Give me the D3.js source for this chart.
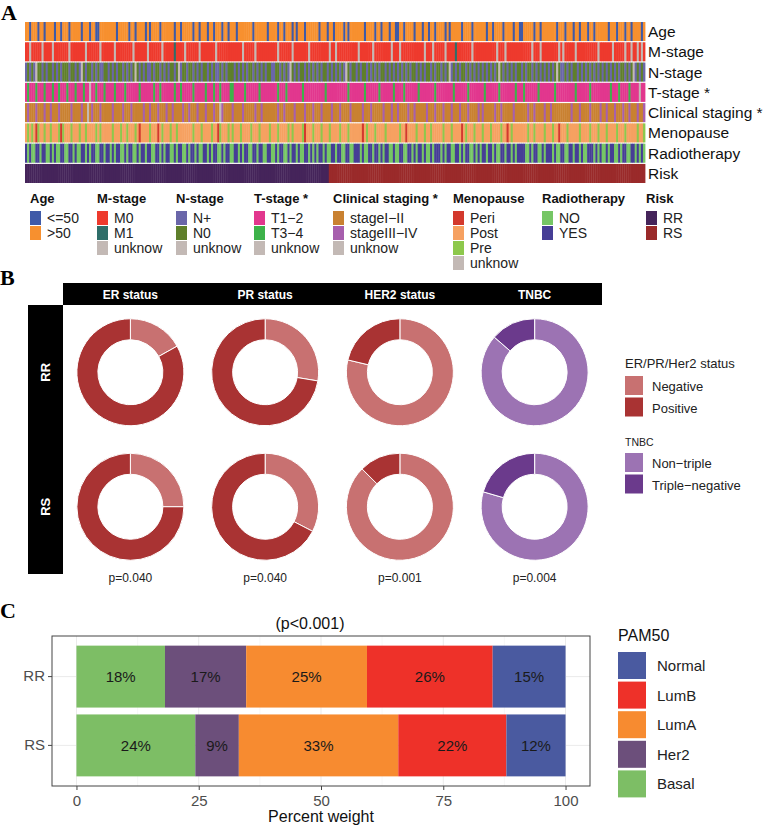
<!DOCTYPE html>
<html>
<head>
<meta charset="utf-8">
<script src="https://cdn.jsdelivr.net/npm/d3@7"></script>
<style>
  body { margin: 0; background: #fff; }
  text { font-family: "Liberation Sans", Arial, sans-serif; }
  .letter { font-family: "Liberation Serif", "Times New Roman", serif; font-weight: bold; font-size: 22px; }
</style>
</head>
<body>
<div id="chart"></div>
<script>
// ---------- panel A data: one code per patient, sorted by risk ----------
var ageCodes = [
  "bbabbbabbabbbbabbabb", "babbbbbabbbabbaabbbb", "bbbbabbbbbabbabbbbab", "abbbbabbbbbbabbabbbb",
  "babbabbbabbabbbabbab", "bbabbbbbbbabbbbbbabb", "bbabbabbbababbbabbbb", "bbabbbabbabbbbababbb",
  "bbbbabbbbabbabbbabba", "abbabbbbabbbabbabbab", "bbbababbbbbabbbbabbb", "bbbabbabbbbabbbbabba",
  "abbbbbabbabbbbbbbabb", "babbbabbabbbabbabbbb", "bbabbbabbbabbabbbbab"].join("");
var mCodes = [
  "00u00000u0000u000000", "0u0000000u000000u000", "000u00000000u000000u", "000000u0000010000u00",
  "0000u0000000u0000000", "00000u00000u00000000", "00u000000u0000000u00", "0000000u00u000000000",
  "0u000000u00000000u00", "0u00000000000u000u00", "000u000010000000u000", "00000000u000u0000000",
  "00000u000u00000000u0", "u00000u0000000000u00", "0000u00000u00u00u0u0"].join("");
var nCodes = [
  "+0+0+u00+0+00+0+0+00", "0+00+0+u0+00+0+0++00", "+0+0+00+0+0+0u0+0+0+", "+0+00+0+0+00+0u+00+0",
  "0+0+0+00+0+0++0+0+00", "0+0+0+0+00+0+0+0+00+", "+00+0+0+u0+0+00+0+0+", "0+0+00+0+0+0+0+u0+00",
  "+0+00+0+0+0+00+0+0+0", "+0+0+0+00+0+0+00+0+0", "0+0+0u+0+0+00+0+0+0+", "0+0+0+0+0u0+0+0+0+00",
  "+0+00+0+0+0+0+0+0u0+", "+0+0+00+0+0+0+0+0+0+", "0+0+0+0+00+0+0u+0+0+"].join("");
var tCodes = [
  "13111311131113113111", "31113111311u11311131", "11131111311111131111", "11311311111131131111",
  "13111113111311311113", "31111131111113111111", "11311131111111311111", "11111311111111113111",
  "11113111111311111131", "11131111113111111131", "11111113111111311111", "11311111131111111311",
  "13111111311111113111", "11111131111113111111", "11131113111131111u11"].join("");
var clinCodes = [
  "efeeefeeefeefeeefeee", "eefeeeefeeuefeeefeee", "eefeeeefeeefeeeeefee", "feeefeeefeefeeeefeef",
  "eeefeeefeeefeeufeeee", "feeeefeeeeefeefeeeee", "eefeefeeeefeeeefeeef", "eeefeeeefeeefeeeefee",
  "eeefeeefeeeeefeeefee", "feeeefeefeeeeefeeefe", "eefeeefeeefeeefeeeef", "efeeeeefeefeeeeefeee",
  "eeefeefeeeefeefeeeee", "eeeefeeefeeeefeeeefe", "efeeefeeefeefeeefeef"].join("");
var menoCodes = [
  "opoporpoopoopoooprpo", "oopooopoopoooopopooo", "oopooopoopoooporoooo", "poooropooopoopoooooo",
  "opooopoooopoorpooopo", "pooopoooopooopoooopo", "oopoooopopooooprooop", "ooopooopoooopooopooo",
  "oooropooopoooopooooo", "opooroooopooopoopooo", "oopooopooooropooopoo", "opooopoooopooropoooo",
  "ooopoopoooopooopooro", "oopooooopoooopooopoo", "opoooopooopooooopoop"].join("");
var radioCodes = [
  "ynynnyynyynnynynnyyn", "nyynynnyynynyynnyyny", "ynynyynnynyynnynyyny", "ynnyynynyynnynyynnyn",
  "yynynnyynynyynnynyyn", "nyynynyynnyynyynnyyn", "nynyynnynyynynnyynyn", "ynyynynnyynyynnyynny",
  "yynynnyynyynynyynnyn", "nyynnyynynyynynnynyy", "ynynyynnyynynyynnyny", "nyynyynynnyynyynynyy",
  "yynnynyynnynyyynynny", "ynnyynyynynnyyynynyn", "nynyynnynyynnyynynyn"].join("");
var riskCodes = [
  "RRRRRRRRRRRRRRRRRRRR", "RRRRRRRRRRRRRRRRRRRR", "RRRRRRRRRRRRRRRRRRRR", "RRRRRRRRRRRRRRRRRRRR",
  "RRRRRRRRRRRRRRRRRRRR", "RRRRRRRRRRRRRRRRRRRR", "RRRRRRRRRRRRRRRRRRRR", "RRRRRRRSSSSSSSSSSSSS",
  "SSSSSSSSSSSSSSSSSSSS", "SSSSSSSSSSSSSSSSSSSS", "SSSSSSSSSSSSSSSSSSSS", "SSSSSSSSSSSSSSSSSSSS",
  "SSSSSSSSSSSSSSSSSSSS", "SSSSSSSSSSSSSSSSSSSS", "SSSSSSSSSSSSSSSSSSSS"].join("");

var rowNames = ["Age", "M-stage", "N-stage", "T-stage *", "Clinical staging *", "Menopause", "Radiotherapy", "Risk"];
var rowCodes = [ageCodes, mCodes, nCodes, tCodes, clinCodes, menoCodes, radioCodes, riskCodes];

var legendTitles = ["Age", "M-stage", "N-stage", "T-stage *", "Clinical staging *", "Menopause", "Radiotherapy", "Risk"];
var legendKeys = [["a", "b"], ["0", "1", "u"], ["+", "0", "u"], ["1", "3", "u"], ["e", "f", "u"], ["r", "o", "p", "u"], ["n", "y"], ["R", "S"]];
var legendLabels = [
  ["<=50", ">50"], ["M0", "M1", "unknow"], ["N+", "N0", "unknow"], ["T1\u22122", "T3\u22124", "unknow"],
  ["stageI\u2212II", "stageIII\u2212IV", "unknow"], ["Peri", "Post", "Pre", "unknow"], ["NO", "YES"], ["RR", "RS"]];

// ---------- panel B data ----------
var statusNames = ["ER status", "PR status", "HER2 status", "TNBC"];
var riskGroups = ["RR", "RS"];
var firstShareRR = [16.9, 27.6, 78.7, 86.4];   // % Negative (or Non-triple), clockwise from 12 o'clock
var firstShareRS = [25.0, 32.6, 87.5, 79.5];
var pValues = ["p=0.040", "p=0.040", "p=0.001", "p=0.004"];

// ---------- panel C data ----------
var pamGroups = ["RR", "RS"];
var pamSubtypes = ["Basal", "Her2", "LumA", "LumB", "Normal"];
var pamRR = [18.1, 16.6, 24.7, 25.7, 14.9];
var pamRS = [24.3, 8.9, 32.6, 22.1, 12.1];
var pamTicks = [0, 25, 50, 75, 100];

// ---------- colours ----------
var unk = "#C3B9B5";
var rowColors = [
  { a: "#3F5AA8", b: "#F7902F" },
  { "0": "#EE3A2D", "1": "#2F6E69", u: unk },
  { "+": "#6A66A9", "0": "#5F7F2B", u: unk },
  { "1": "#E2378E", "3": "#3DB24A", u: unk },
  { e: "#C98131", f: "#A75FAD", u: unk },
  { r: "#D3392D", o: "#F6A161", p: "#8DC84C", u: unk },
  { n: "#76C665", y: "#463E96" },
  { R: "#45245A", S: "#9A2A2A" }
];

var svg = d3.select("#chart").append("svg")
  .attr("width", 767)
  .attr("height", 826);

// =================== A ===================
svg.append("text").attr("class", "letter").attr("x", 1).attr("y", 20).text("A");

var rowScale = d3.scaleBand().domain(rowNames).range([22, 183]).paddingInner(0.06);

rowNames.forEach(function(name, i) {
  var codes = rowCodes[i].split("");
  var colScale = d3.scaleBand().domain(d3.range(codes.length)).range([25, 645]);
  var g = svg.append("g");
  g.selectAll("rect")
    .data(codes)
    .enter().append("rect")
    .attr("x", function(d, j) { return colScale(j); })
    .attr("y", rowScale(name))
    .attr("width", colScale.bandwidth() + 0.4)
    .attr("height", rowScale.bandwidth())
    .attr("fill", function(d) { return rowColors[i][d]; });

  svg.append("text")
    .attr("x", 648)
    .attr("y", rowScale(name) + rowScale.bandwidth() / 2 + 5.5)
    .attr("font-size", 15.5)
    .attr("fill", "#111")
    .text(name);
});

// legends for A
var legendX = [30, 97, 176, 254, 333, 453, 542, 646];
legendTitles.forEach(function(t, i) {
  var g = svg.append("g").attr("transform", `translate(${legendX[i]}, 0)`);
  g.append("text")
    .attr("x", 0).attr("y", 203)
    .attr("font-size", 13).attr("font-weight", "bold").attr("fill", "#111")
    .text(t);
  legendKeys[i].forEach(function(k, j) {
    g.append("rect")
      .attr("x", 0).attr("y", 211 + j * 15)
      .attr("width", 11).attr("height", 14)
      .attr("fill", rowColors[i][k]);
    g.append("text")
      .attr("x", 17).attr("y", 223 + j * 15)
      .attr("font-size", 14).attr("fill", "#222")
      .text(legendLabels[i][j]);
  });
});

// =================== B ===================
svg.append("text").attr("class", "letter").attr("x", 0).attr("y", 285).text("B");

var colB = d3.scaleBand().domain(statusNames).range([63, 602]);
var rowB = d3.scaleBand().domain(riskGroups).range([305, 574]);

svg.append("rect").attr("x", 63).attr("y", 283).attr("width", 539).attr("height", 22).attr("fill", "#000");
svg.append("rect").attr("x", 28).attr("y", 305).attr("width", 35).attr("height", 269).attr("fill", "#000");

statusNames.forEach(function(s) {
  svg.append("text")
    .attr("x", colB(s) + colB.bandwidth() / 2)
    .attr("y", 298.5)
    .attr("text-anchor", "middle")
    .attr("font-size", 12).attr("font-weight", "bold").attr("fill", "#fff")
    .text(s);
});
riskGroups.forEach(function(r) {
  var cy = rowB(r) + rowB.bandwidth() / 2;
  svg.append("text")
    .attr("transform", `translate(50, ${cy}) rotate(-90)`)
    .attr("text-anchor", "middle")
    .attr("font-size", 13).attr("font-weight", "bold").attr("fill", "#fff")
    .text(r);
});

var pie = d3.pie().sort(null).value(function(d) { return d; });
var arc = d3.arc().innerRadius(32.5).outerRadius(53.5);
var statusCol = ["#C87171", "#A93333"];
var tnbcCol = ["#9C73B3", "#6B3A8C"];

riskGroups.forEach(function(r, ri) {
  var shares = ri === 0 ? firstShareRR : firstShareRS;
  statusNames.forEach(function(s, si) {
    var cx = colB(s) + colB.bandwidth() / 2;
    var cy = rowB(r) + rowB.bandwidth() / 2;
    var cols = s === "TNBC" ? tnbcCol : statusCol;
    var g = svg.append("g").attr("transform", `translate(${cx}, ${cy})`);
    g.selectAll("path")
      .data(pie([shares[si], 100 - shares[si]]))
      .enter().append("path")
      .attr("d", arc)
      .attr("fill", function(d, k) { return cols[k]; })
      .attr("stroke", "#fff")
      .attr("stroke-width", 1);
  });
});

statusNames.forEach(function(s, i) {
  svg.append("text")
    .attr("x", colB(s) + colB.bandwidth() / 2)
    .attr("y", 582)
    .attr("text-anchor", "middle")
    .attr("font-size", 12).attr("fill", "#222")
    .text(pValues[i]);
});

// legend B
var lgB = svg.append("g").attr("transform", "translate(625, 0)");
lgB.append("text").attr("x", 0).attr("y", 368).attr("font-size", 13).attr("fill", "#222").text("ER/PR/Her2 status");
["Negative", "Positive"].forEach(function(t, i) {
  lgB.append("rect").attr("x", 0).attr("y", 376 + i * 21.5).attr("width", 18).attr("height", 19).attr("fill", statusCol[i]);
  lgB.append("text").attr("x", 27).attr("y", 391 + i * 21.5).attr("font-size", 13).attr("fill", "#222").text(t);
});
lgB.append("text").attr("x", 0).attr("y", 446).attr("font-size", 10.5).attr("fill", "#222").text("TNBC");
["Non\u2212triple", "Triple\u2212negative"].forEach(function(t, i) {
  lgB.append("rect").attr("x", 0).attr("y", 453 + i * 21.5).attr("width", 18).attr("height", 19).attr("fill", tnbcCol[i]);
  lgB.append("text").attr("x", 27).attr("y", 468 + i * 21.5).attr("font-size", 13).attr("fill", "#222").text(t);
});

// =================== C ===================
svg.append("text").attr("class", "letter").attr("x", 0).attr("y", 618).text("C");

var pamColors = { Basal: "#7DBE65", Her2: "#6C4F7B", LumA: "#F78B30", LumB: "#EE3129", Normal: "#4A5AA0" };

var xC = d3.scaleLinear().domain([-5, 105]).range([52, 590]);
var yC = d3.scaleBand().domain(pamGroups).range([636, 786]).paddingInner(0.1).paddingOuter(0.05 + 0.09);

var pamRows = pamGroups.map(function(g, i) {
  var vals = i === 0 ? pamRR : pamRS;
  var o = { group: g };
  pamSubtypes.forEach(function(s, j) { o[s] = vals[j]; });
  return o;
});
var stacked = d3.stack().keys(pamSubtypes)(pamRows);

// grid
var gridC = svg.append("g");
d3.range(-12.5, 105, 12.5).filter(function(v) { return v >= -5; }).forEach(function(v) {
  gridC.append("line")
    .attr("x1", xC(v)).attr("x2", xC(v)).attr("y1", 636).attr("y2", 786)
    .attr("stroke", v % 25 === 0 ? "#EBEBEB" : "#F4F4F4").attr("stroke-width", v % 25 === 0 ? 1 : 0.6);
});
pamGroups.forEach(function(g) {
  gridC.append("line")
    .attr("x1", 52).attr("x2", 590)
    .attr("y1", yC(g) + yC.bandwidth() / 2).attr("y2", yC(g) + yC.bandwidth() / 2)
    .attr("stroke", "#EBEBEB");
});

stacked.forEach(function(layer) {
  svg.append("g").selectAll("rect")
    .data(layer)
    .enter().append("rect")
    .attr("x", function(d) { return xC(d[0]); })
    .attr("width", function(d) { return xC(d[1]) - xC(d[0]); })
    .attr("y", function(d) { return yC(d.data.group); })
    .attr("height", yC.bandwidth())
    .attr("fill", pamColors[layer.key]);
  svg.append("g").selectAll("text")
    .data(layer)
    .enter().append("text")
    .attr("x", function(d) { return (xC(d[0]) + xC(d[1])) / 2; })
    .attr("y", function(d) { return yC(d.data.group) + yC.bandwidth() / 2 + 5.5; })
    .attr("text-anchor", "middle")
    .attr("font-size", 15).attr("fill", "#1a1a1a")
    .text(function(d) { return Math.round(d[1] - d[0]) + "%"; });
});

svg.append("rect").attr("x", 52).attr("y", 636).attr("width", 538).attr("height", 150)
  .attr("fill", "none").attr("stroke", "#444").attr("stroke-width", 1);

var xAxisC = svg.append("g").attr("transform", "translate(0, 786)")
  .call(d3.axisBottom(xC).tickValues(pamTicks).tickSize(4).tickSizeOuter(0));
xAxisC.select(".domain").remove();
xAxisC.selectAll("line").attr("stroke", "#444");
xAxisC.selectAll("text").attr("font-size", 15).attr("fill", "#4D4D4D").attr("dy", "0.85em")
  .style("font-family", "Liberation Sans, Arial, sans-serif");

var yAxisC = svg.append("g").attr("transform", "translate(52, 0)")
  .call(d3.axisLeft(yC).tickSize(4).tickSizeOuter(0));
yAxisC.select(".domain").remove();
yAxisC.selectAll("line").attr("stroke", "#444");
yAxisC.selectAll("text").attr("font-size", 15).attr("fill", "#4D4D4D")
  .style("font-family", "Liberation Sans, Arial, sans-serif");

svg.append("text").attr("x", 321).attr("y", 822).attr("text-anchor", "middle")
  .attr("font-size", 16).attr("fill", "#111").text("Percent weight");
svg.append("text").attr("x", 310).attr("y", 629).attr("text-anchor", "middle")
  .attr("font-size", 16).attr("fill", "#111").text("(p<0.001)");

// legend C
var lgC = svg.append("g").attr("transform", "translate(618, 0)");
lgC.append("text").attr("x", 0).attr("y", 641).attr("font-size", 16).attr("fill", "#111").text("PAM50");
pamSubtypes.slice().reverse().forEach(function(s, i) {
  lgC.append("rect").attr("x", 0).attr("y", 652 + i * 29.6).attr("width", 28).attr("height", 27).attr("fill", pamColors[s]);
  lgC.append("text").attr("x", 39).attr("y", 671 + i * 29.6).attr("font-size", 15).attr("fill", "#222").text(s);
});
</script>
</body>
</html>
